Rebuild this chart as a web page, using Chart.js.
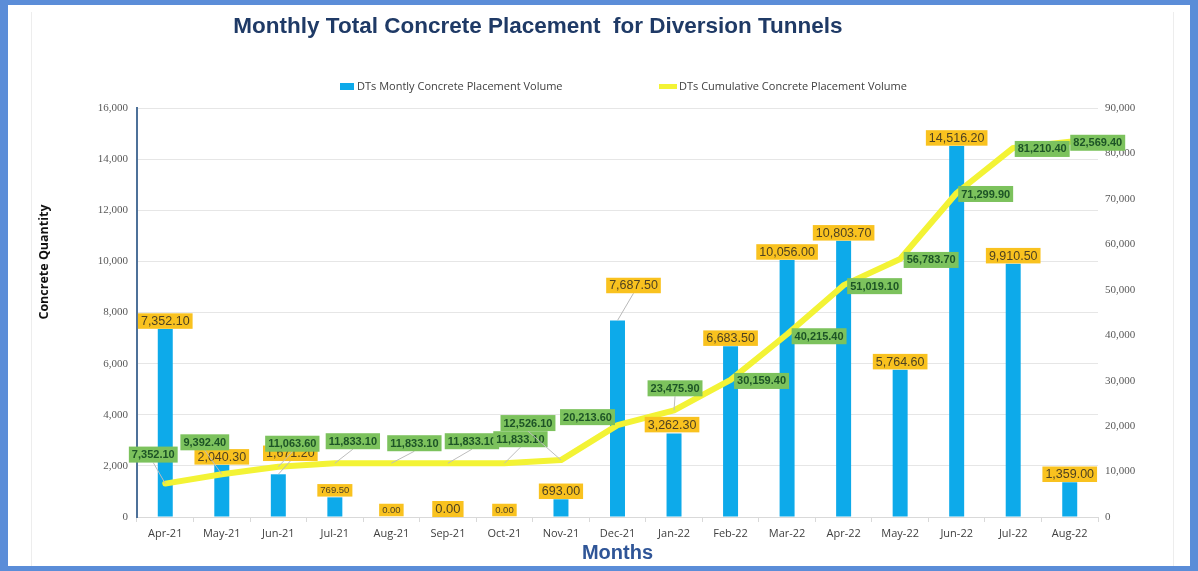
<!DOCTYPE html>
<html>
<head>
<meta charset="utf-8">
<script src="https://cdn.jsdelivr.net/npm/chart.js@4.4.1/dist/chart.umd.min.js"></script>
<style>
html,body{margin:0;padding:0;background:#fff;width:1198px;height:571px;overflow:hidden;}
#wrap{position:relative;width:1198px;height:571px;background:#fff;}
#c{position:absolute;left:0;top:0;}
#inner{position:absolute;left:31px;top:12px;width:1143px;height:560px;box-sizing:border-box;border-left:1px solid #EDEDED;border-right:1px solid #EDEDED;pointer-events:none;}
#frame{position:absolute;left:0;top:0;width:1198px;height:571px;box-sizing:border-box;border-style:solid;border-color:#5B8DD8;border-width:5px 8px 5px 8px;pointer-events:none;}
</style>
</head>
<body>
<div id="wrap">
<div id="inner"></div>
<canvas id="c" width="1198" height="571"></canvas>
<div id="frame"></div>
</div>
<script>
// ---- data ----
const months = ['Apr-21','May-21','Jun-21','Jul-21','Aug-21','Sep-21','Oct-21','Nov-21','Dec-21','Jan-22','Feb-22','Mar-22','Apr-22','May-22','Jun-22','Jul-22','Aug-22'];
const monthlyVolume = [7352.10, 2040.30, 1671.20, 769.50, 0.00, 0.00, 0.00, 693.00, 7687.50, 3262.30, 6683.50, 10056.00, 10803.70, 5764.60, 14516.20, 9910.50, 1359.00];
const cumulativeVolume = [7352.10, 9392.40, 11063.60, 11833.10, 11833.10, 11833.10, 11833.10, 12526.10, 20213.60, 23475.90, 30159.40, 40215.40, 51019.10, 56783.70, 71299.90, 81210.40, 82569.40];
const leftTicks = [0, 2000, 4000, 6000, 8000, 10000, 12000, 14000, 16000];
const rightTicks = [0, 10000, 20000, 30000, 40000, 50000, 60000, 70000, 80000, 90000];

const titleText = 'Monthly Total Concrete Placement  for Diversion Tunnels';
const seriesNames = ['DTs Montly Concrete Placement Volume', 'DTs Cumulative Concrete Placement Volume'];

// ---- label layout (pixel offsets relative to the library-computed element position) ----
const barLabelShift = [[0,-8],[0,-8],[12,-21],[0,-7],[0,-7],[0,-8],[0,-7],[0,-8],[16,-35],[-2,-9],[0,-8],[0,-8],[0,-8],[0,-8],[0,-8],[0,-8],[0,-8]];
const barLabelSize = [12.5,12.5,12.5,9.5,9.5,13,9.5,12.5,12.5,12.5,12.5,12.5,12.5,12.5,12.5,12.5,12.5];
const lineLabelShift = [[-12,-29],[-17,-32],[14,-23],[18,-22],[23,-20],[24,-22],[16,-24],[-33,-37],[-30,-8],[1,-22],[31,1],[32,2],[31,1],[31,1],[29,1],[29,1],[28,1]];

const BAR_COLOR = '#0DAAEA';
const LINE_COLOR = '#F3F335';
const fmt2 = v => v.toLocaleString('en-US',{minimumFractionDigits:2, maximumFractionDigits:2});
const fmt0 = v => v.toLocaleString('en-US');

const decor = {
  id: 'decor',
  afterDatasetsDraw(chart) {
    const ctx = chart.ctx;
    const barMeta = chart.getDatasetMeta(1);
    const lineMeta = chart.getDatasetMeta(0);
    ctx.save();
    // monthly labels (orange)
    barMeta.data.forEach((el, i) => {
      const fs = barLabelSize[i];
      ctx.font = fs + 'px "Liberation Sans", Arial, sans-serif';
      const t = fmt2(monthlyVolume[i]);
      const w = ctx.measureText(t).width + 6;
      const h = fs + 3;
      const cx = el.x + barLabelShift[i][0];
      const cy = el.y + barLabelShift[i][1];
      if (Math.abs(barLabelShift[i][1]) > 15) {
        ctx.strokeStyle = '#B8B8B8'; ctx.lineWidth = 1;
        ctx.beginPath(); ctx.moveTo(el.x, el.y); ctx.lineTo(cx, cy + h/2); ctx.stroke();
      }
      ctx.fillStyle = '#F9C21F';
      ctx.fillRect(cx - w/2, cy - h/2, w, h);
      ctx.fillStyle = '#4F4221';
      ctx.textAlign = 'center'; ctx.textBaseline = 'middle';
      ctx.fillText(t, cx, cy + 0.5);
    });
    // cumulative labels (green)
    lineMeta.data.forEach((el, i) => {
      ctx.font = 'bold 11px "Liberation Sans", Arial, sans-serif';
      const t = fmt2(cumulativeVolume[i]);
      const w = ctx.measureText(t).width + 6;
      const h = 16;
      const cx = el.x + lineLabelShift[i][0];
      const cy = el.y + lineLabelShift[i][1];
      if (lineLabelShift[i][1] < -15) {
        ctx.strokeStyle = '#BDBDBD'; ctx.lineWidth = 1;
        ctx.beginPath(); ctx.moveTo(el.x, el.y); ctx.lineTo(cx, cy + h/2); ctx.stroke();
      }
      ctx.fillStyle = '#7CC25D';
      ctx.fillRect(cx - w/2, cy - h/2, w, h);
      ctx.fillStyle = '#1D5426';
      ctx.textAlign = 'center'; ctx.textBaseline = 'middle';
      ctx.fillText(t, cx, cy + 0.5);
    });
    ctx.restore();
  },
  afterDraw(chart) {
    const ctx = chart.ctx;
    ctx.save();
    // title
    ctx.font = 'bold 22.5px "Liberation Sans", Arial, sans-serif';
    ctx.fillStyle = '#1F3A66';
    ctx.textAlign = 'center'; ctx.textBaseline = 'middle';
    ctx.fillText(titleText, 538, 27);
    // legend
    ctx.font = '11px "Open Sans", sans-serif';
    ctx.textAlign = 'left';
    ctx.fillStyle = BAR_COLOR;
    ctx.fillRect(340, 83, 14, 7);
    ctx.fillStyle = '#404040';
    ctx.fillText(seriesNames[0], 357, 86.5);
    ctx.strokeStyle = LINE_COLOR; ctx.lineWidth = 5;
    ctx.beginPath(); ctx.moveTo(659, 86.5); ctx.lineTo(677, 86.5); ctx.stroke();
    ctx.fillStyle = '#404040';
    ctx.fillText(seriesNames[1], 679, 86.5);
    // y axis title
    ctx.translate(44, 262);
    ctx.rotate(-Math.PI/2);
    ctx.font = 'bold 12.5px "Open Sans", sans-serif';
    ctx.fillStyle = '#111111';
    ctx.textAlign = 'center'; ctx.textBaseline = 'middle';
    ctx.fillText('Concrete Quantity', 0, 0);
    ctx.restore();
  }
};

new Chart(document.getElementById('c'), {
  type: 'bar',
  data: {
    labels: months,
    datasets: [
      {
        type: 'line',
        label: seriesNames[1],
        data: cumulativeVolume,
        yAxisID: 'y1',
        borderColor: LINE_COLOR,
        backgroundColor: LINE_COLOR,
        borderWidth: 6,
        pointRadius: 0,
        tension: 0,
        borderJoinStyle: 'round',
        borderCapStyle: 'round',
        order: 0
      },
      {
        type: 'bar',
        label: seriesNames[0],
        data: monthlyVolume,
        yAxisID: 'y',
        backgroundColor: BAR_COLOR,
        categoryPercentage: 1,
        barPercentage: 0.265,
        order: 1
      }
    ]
  },
  options: {
    responsive: false,
    animation: false,
    devicePixelRatio: 1,
    layout: { padding: { top: 108, left: 0, right: 0, bottom: 0 } },
    plugins: { legend: { display: false }, tooltip: { enabled: false }, title: { display: false } },
    scales: {
      x: {
        offset: true,
        grid: { drawOnChartArea: false, drawTicks: true, tickLength: 5, color: '#D9D9D9', offset: true },
        border: { display: true, color: '#D9D9D9' },
        ticks: { font: { family: '"Open Sans", sans-serif', size: 11 }, color: '#404040', padding: 5, maxRotation: 0, autoSkip: false },
        title: { display: true, text: 'Months', color: '#2F5597', font: { family: '"Liberation Sans", Arial, sans-serif', size: 20, weight: 'bold' }, padding: { top: 0, bottom: 6 } },
        afterFit: s => { s.height = 54; }
      },
      y: {
        position: 'left',
        min: 0, max: 16000,
        afterBuildTicks: s => { s.ticks = leftTicks.map(v => ({ value: v })); },
        ticks: { callback: v => fmt0(v), font: { family: '"Liberation Serif", serif', size: 11 }, color: '#595959', padding: 9 },
        grid: { color: '#E6E6E6', drawTicks: false },
        border: { display: true, color: '#4E7199', width: 2 },
        afterFit: s => { s.width = 137; }
      },
      y1: {
        position: 'right',
        min: 0, max: 90000,
        afterBuildTicks: s => { s.ticks = rightTicks.map(v => ({ value: v })); },
        ticks: { callback: v => fmt0(v), font: { family: '"Liberation Serif", serif', size: 11 }, color: '#595959', padding: 7 },
        grid: { drawOnChartArea: false, drawTicks: false },
        border: { display: false },
        afterFit: s => { s.width = 100; }
      }
    }
  },
  plugins: [decor]
});
</script>
</body>
</html>
